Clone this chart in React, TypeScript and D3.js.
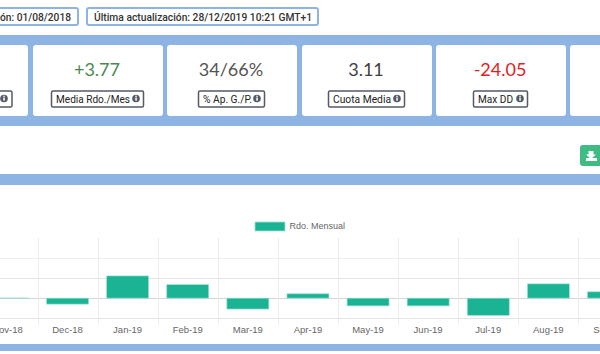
import React from "react";
import * as d3 from "d3";

const months = ["Nov-18","Dec-18","Jan-19","Feb-19","Mar-19","Apr-19","May-19","Jun-19","Jul-19","Aug-19","Sep-19"];
const results = [0.1,-3,11.2,6.8,-5.5,2.2,-3.9,-3.9,-8.7,7.2,3.2];
const yTicks = [-10,0,10,20];
const gridX = ["Oct-18",...months];
const legendLabel = "Rdo. Mensual";
const headerA = "ón: 01/08/2018";
const headerB = "Última actualización: 28/12/2019 10:21 GMT+1";
const cardValues = ["+3.77","34/66%","3.11","-24.05"];
const cardLabels = ["Media Rdo./Mes","% Ap. G./P.","Cuota Media","Max DD"];
const cardColors = ["#4a8a4c","#555555","#3f3f3f","#e31b23"];
const cardLefts = [33,167,302,436];
const labelBoxX = [51.5,198.5,328.5,473.5];
const labelBoxW = [92,66,76,54];
const labelTextW = [74,49,58,35];

const BLUE = "#8db4e2";
const GREEN = "#1ab394";

function Info({x,y}:{x:number;y:number}){
  return <g transform={`translate(${x},${y})`}>
    <circle r={3.8} fill="#555a64"/>
    <rect x={-0.7} y={-1} width={1.5} height={3.2} fill="#fff"/>
    <rect x={-0.7} y={-2.8} width={1.5} height={1.2} fill="#fff"/>
  </g>;
}

export default function App(){
  const x = d3.scaleBand().domain(months).range([-22.6,638.5]).padding(0);
  const y = d3.scaleLinear().domain([-10,30]).range([318,238.6]);
  const bw = 42;
  return <svg width={600} height={354} style={{position:"fixed",left:0,top:0,display:"block",background:"#fff"}}>
    <rect x={-2} y={8} width={80} height={17} rx={2} fill="#fff" stroke={BLUE} strokeWidth={2}/>
    <text x={0} y={21} textLength={71} lengthAdjust="spacingAndGlyphs" fontFamily="Roboto,sans-serif" fontWeight={500} fontSize={11.5} fill="#333">{headerA}</text>
    <rect x={87} y={8} width={231} height={17} rx={2} fill="#fff" stroke={BLUE} strokeWidth={2}/>
    <text x={94} y={21} textLength={218} lengthAdjust="spacingAndGlyphs" fontFamily="Roboto,sans-serif" fontWeight={500} fontSize={11.5} fill="#333">{headerB}</text>

    <rect x={0} y={35} width={600} height={91} fill={BLUE}/>
    <rect x={-10} y={45} width={38} height={71} rx={3} fill="#fff"/>
    {cardValues.map((v,i)=>{
      const l=cardLefts[i]; const cx=l+65;
      return <g key={v}>
        <rect x={l} y={45} width={130} height={71} rx={3} fill="#fff"/>
        <text x={cx-1} y={75.5} textAnchor="middle" fontFamily="Lato,sans-serif" fontSize={18} fill={cardColors[i]}>{v}</text>
        <rect x={labelBoxX[i]} y={91} width={labelBoxW[i]} height={16} rx={1.5} fill="#fff" stroke="#555a64" strokeWidth={1.5}/>
        <text x={labelBoxX[i]+4.5} y={102.5} textLength={labelTextW[i]} lengthAdjust="spacingAndGlyphs" fontFamily="Roboto,sans-serif" fontSize={11} fill="#222">{cardLabels[i]}</text>
        <Info x={labelBoxX[i]+labelBoxW[i]-7.5} y={98.5}/>
      </g>;
    })}
    <rect x={570} y={45} width={40} height={71} rx={3} fill="#fff"/>
    <rect x={-10} y={91} width={22} height={16} rx={1.5} fill="#fff" stroke="#555a64" strokeWidth={1.5}/>
    <Info x={4} y={98.5}/>

    <rect x={580} y={145} width={25} height={21} rx={3} fill="#3fbc84"/>
    <path d="M588.5 151h5v3.5h2.5l-5 4.5-5-4.5h2.5z" fill="#fff"/>
    <rect x={586} y={158} width={11} height={3} fill="#fff"/>

    <rect x={0} y={174} width={600} height={11} fill={BLUE}/>
    <rect x={0} y={344} width={600} height={7} fill={BLUE}/>

    <rect x={255} y={222} width={30} height={9} fill={GREEN} stroke="#a3e1d4" strokeWidth={0.8}/>
    <text x={289.5} y={229} fontFamily="'Liberation Sans',sans-serif" fontSize={9} fill="#666">{legendLabel}</text>

    {yTicks.map(t=>
      <line key={t} x1={0} x2={600} y1={Math.round(y(t))+.5} y2={Math.round(y(t))+.5} stroke={t===0?"#d4d4d4":t===20?"#efefef":"#e4e4e4"} strokeWidth={1}/>)}
    {gridX.map((m,i)=>{
      const xx = (i===0 ? (x(months[0])??0) : (x(m)??0)+x.bandwidth());
      return <line key={m} x1={Math.round(xx)+.5} x2={Math.round(xx)+.5} y1={238} y2={325} stroke="#ececec"/>;
    })}
    {results.map((v,i)=>{
      const cx=(x(months[i])??0)+x.bandwidth()/2;
      return <rect key={months[i]} x={cx-bw/2} width={bw} y={Math.min(y(v),y(0))} height={Math.abs(y(v)-y(0))} fill={GREEN} stroke="#a3e1d4" strokeWidth={0.7}/>;
    })}
    {months.map(m=>
      <text key={m} x={(x(m)??0)+x.bandwidth()/2} y={332.5} textAnchor="middle" fontFamily="'Liberation Sans',sans-serif" fontSize={9.5} fill="#666">{m}</text>)}
  </svg>;
}
